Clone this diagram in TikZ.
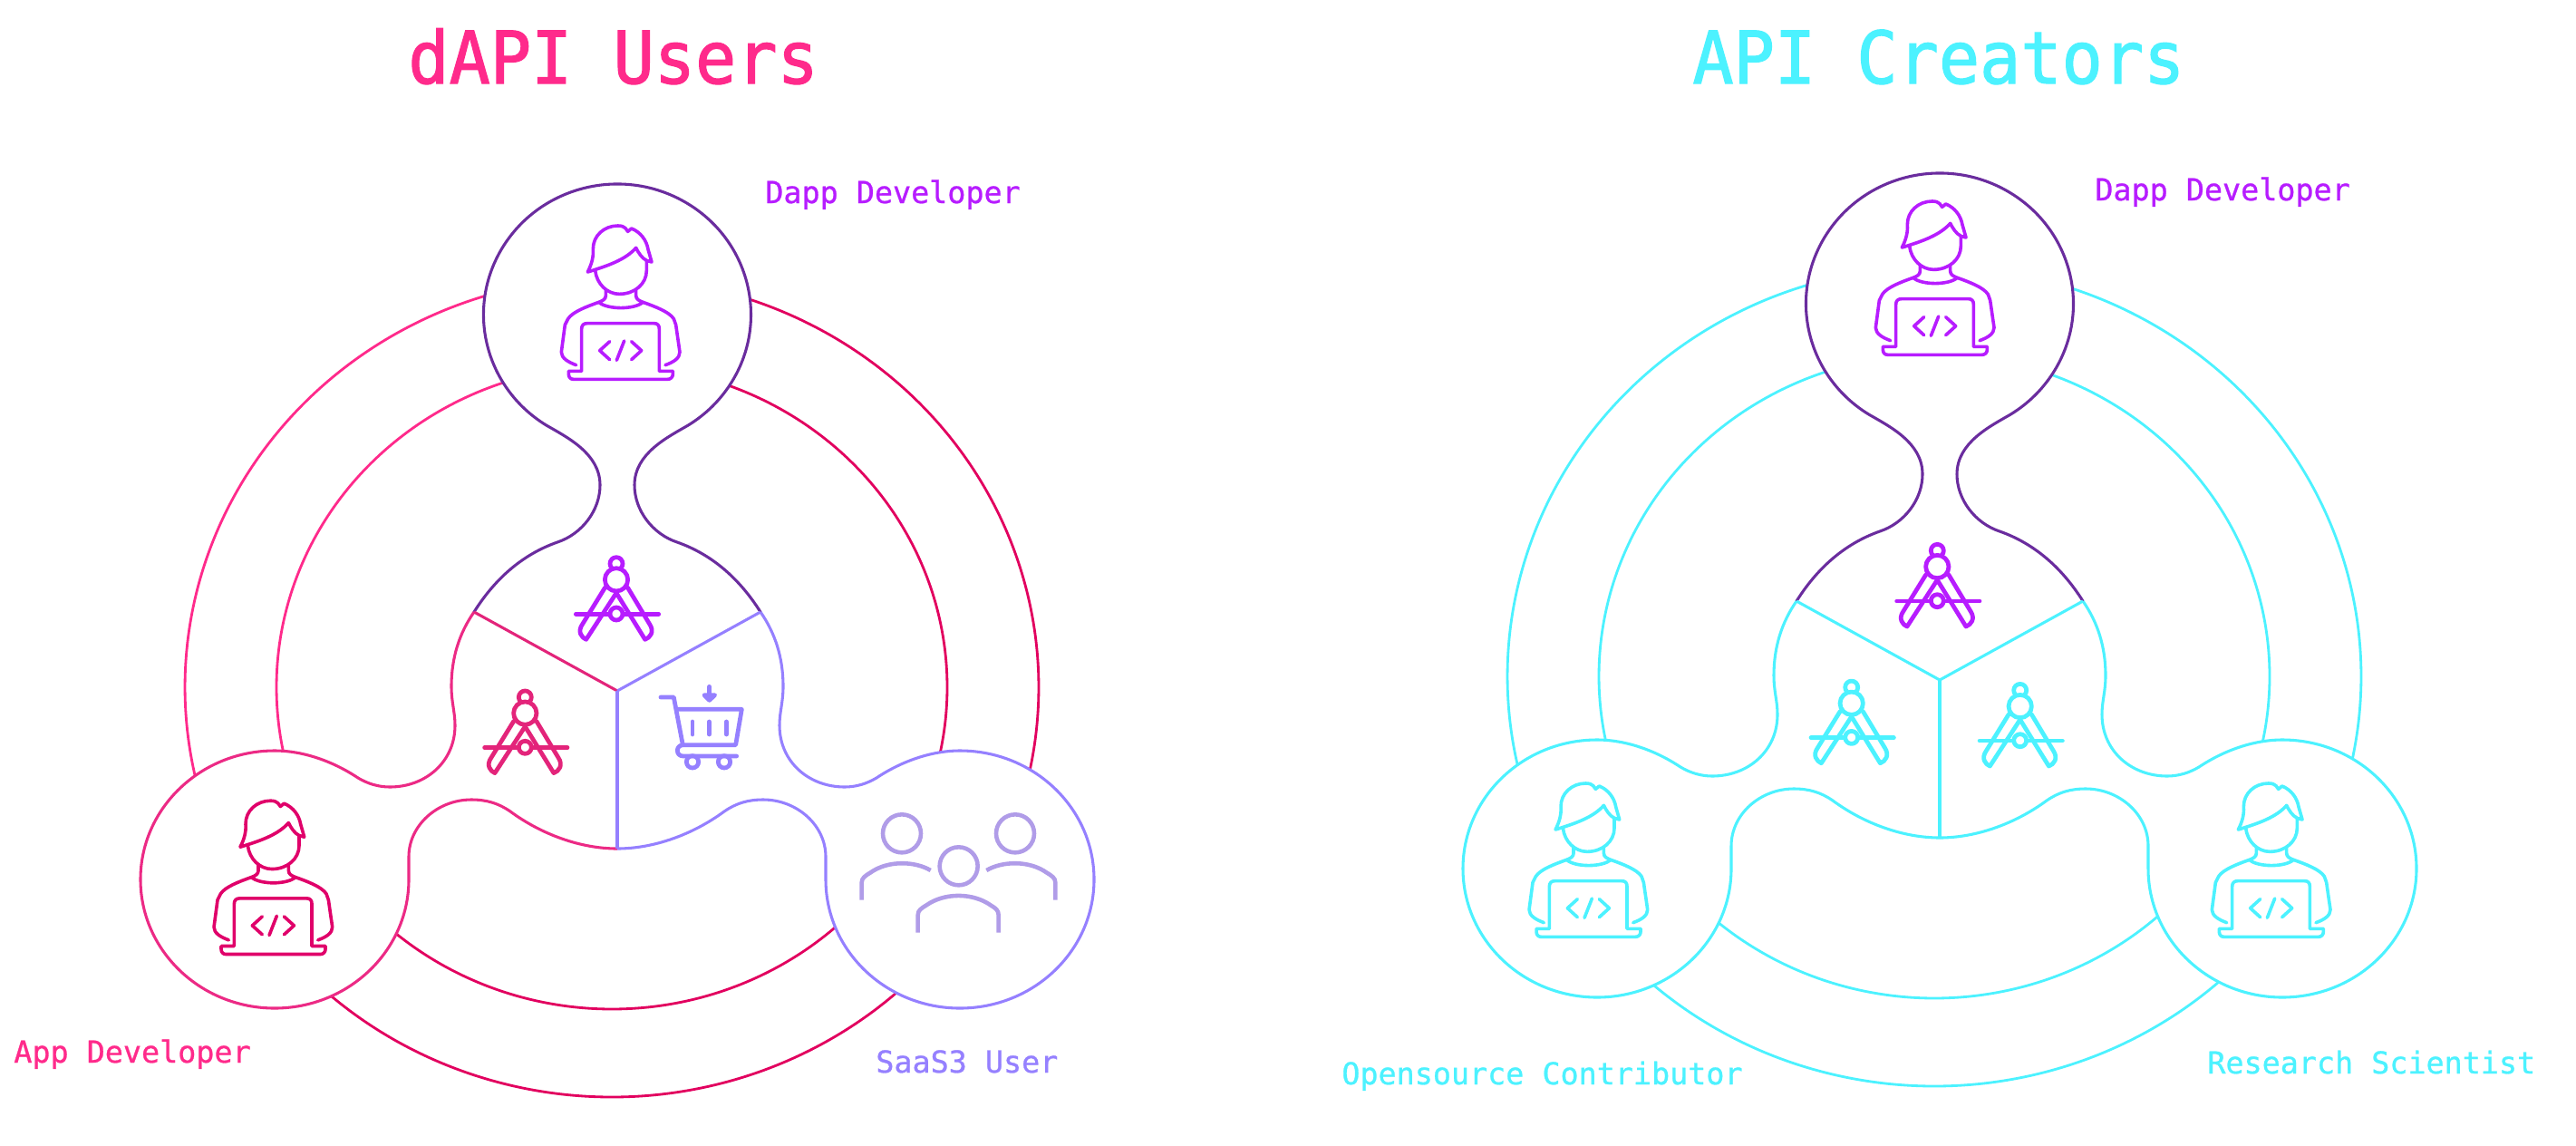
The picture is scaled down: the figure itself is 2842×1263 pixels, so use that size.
\documentclass[tikz,border=0pt]{standalone}
\usepackage{fontspec}
\newfontfamily\labelfont[FakeBold=0.8]{DejaVu Sans Mono}
\newfontfamily\titlefont[FakeStretch=0.94,FakeBold=1.5]{DejaVu Sans Mono}
\definecolor{hotpink}{HTML}{FF2A8B}
\definecolor{crimson}{HTML}{E2005F}
\definecolor{rosepink}{HTML}{EC2A85}
\definecolor{devpink}{HTML}{E0006A}
\definecolor{toolpink}{HTML}{E3247A}
\definecolor{magent}{HTML}{B71CFF}
\definecolor{deeppurple}{HTML}{6A2C9E}
\definecolor{peri}{HTML}{9580FF}
\definecolor{lilac}{HTML}{B09CE8}
\definecolor{cyanish}{HTML}{4CF2FF}
\tikzset{
  ringline/.style={line width=1.6pt},
  blobline/.style={line width=1.75pt},
  iconline/.style={line width=2.05pt,line join=round,line cap=round},
  toolline/.style={line width=2.7pt,line join=round,line cap=round},
  titletext/.style={anchor=base west,inner sep=0pt,font=\titlefont\fontsize{45.5}{45.5}\selectfont},
  roletext/.style={anchor=base west,inner sep=0pt,font=\labelfont\fontsize{19}{19}\selectfont},
}
% blob outline pieces, in pixel coordinates of the left panel
\def\segT{(523,675) .. controls (545,640) and (575,612) .. (615,598)
  .. controls (642,589) and (662,563) .. (662,535)
  .. controls (662,500) and (625,482) .. (602.8,469.1)
  arc[start angle=122,end angle=418,x radius=147.5,y radius=144]
  .. controls (737,482) and (700,500) .. (700,535)
  .. controls (700,563) and (720,589) .. (747,598)
  .. controls (787,612) and (817,640) .. (839,675)}
\def\segR{(839,675) .. controls (855,698) and (864,725) .. (864,757)
  .. controls (864,775) and (860,785) .. (860,800)
  .. controls (860,840) and (892,868) .. (932,868)
  .. controls (945,868) and (957,864) .. (967,858)
  .. controls (994,840) and (1027,828) .. (1059,828)
  arc[start angle=-90,end angle=180,x radius=148,y radius=142]
  .. controls (911,960) and (911,955) .. (911,945)
  .. controls (911,910) and (879,882) .. (842,882)
  .. controls (825,882) and (812,886) .. (799,895)
  .. controls (765,920) and (722,936) .. (681,936)}
\def\segL{(681,936) .. controls (640,936) and (597,920) .. (563,895)
  .. controls (550,886) and (537,882) .. (520,882)
  .. controls (483,882) and (451,910) .. (451,945)
  .. controls (451,955) and (451,960) .. (451,970)
  arc[start angle=0,end angle=270,x radius=148,y radius=142]
  .. controls (335,828) and (368,840) .. (395,858)
  .. controls (405,864) and (417,868) .. (430,868)
  .. controls (470,868) and (502,840) .. (502,800)
  .. controls (502,785) and (498,775) .. (498,757)
  .. controls (498,725) and (507,698) .. (523,675)}
% #1 left ring, #2 lower+right ring, #3 left blob, #4 right blob, #5 left divider, #6 right dividers
\newcommand\panelshape[6]{%
  \draw[ringline,#1] (675,758) ++(-113.9,-438.6) arc[start angle=-104,end angle=-197,x radius=471,y radius=452];
  \draw[ringline,#1] (675,758) ++(-89.5,-344.5) arc[start angle=-104,end angle=-195,x radius=370,y radius=355];
  \draw[ringline,#2] (675,758) ++(113.9,-438.6) arc[start angle=-76,end angle=16,x radius=471,y radius=452];
  \draw[ringline,#2] (675,758) ++(89.5,-344.5) arc[start angle=-76,end angle=15,x radius=370,y radius=355];
  \draw[ringline,#2] (675,758) ++(-333,319.6) arc[start angle=135,end angle=44,x radius=471,y radius=452];
  \draw[ringline,#2] (675,758) ++(-261.6,251) arc[start angle=135,end angle=44,x radius=370,y radius=355];
  \fill[white] \segT -- \segR -- \segL -- cycle;
  \draw[blobline,#3] \segL;
  \draw[blobline,#4] \segR;
  \draw[blobline,deeppurple] \segT;
  \draw[blobline,#5] (523,675) -- (681,762);
  \draw[blobline,#6] (839,675) -- (681,762);
  \draw[blobline,#6] (681,762) -- (681,936);
}
% developer icon: coordinates in 3x crop pixels
\newcommand\devicon[3]{%
  \begin{scope}[shift={(#2,#3)},scale=1/3]
    \draw[iconline,#1] (445,390) .. controls (458,365) and (465,340) .. (463,315)
      .. controls (462,270) and (500,237) .. (545,237) .. controls (558,237) and (565,240) .. (570,245)
      -- (578,256) -- (590,246) .. controls (620,258) and (640,285) .. (645,315) -- (657,357) -- (640,352)
      .. controls (625,345) and (612,325) .. (605,310) .. controls (570,350) and (510,370) .. (445,390) -- cycle;
    \draw[iconline,#1] (470,385) .. controls (475,430) and (510,463) .. (550,463) .. controls (600,463) and (640,430) .. (640,385) -- (640,352);
    \draw[iconline,#1] (505,450) -- (505,468) .. controls (505,480) and (495,485) .. (482,490)
      .. controls (440,505) and (395,522) .. (380,545) -- (370,565) -- (358,655) .. controls (358,675) and (380,688) .. (407,698);
    \draw[iconline,#1] (605,450) -- (605,468) .. controls (605,480) and (615,485) .. (628,490)
      .. controls (670,505) and (715,522) .. (730,545) -- (737,565) -- (750,655) .. controls (750,675) and (730,688) .. (702,698);
    \draw[iconline,#1] (482,490) .. controls (510,515) and (600,515) .. (628,490);
    \draw[iconline,#1] (382,718) -- (425,718) -- (425,578) .. controls (425,566) and (432,560) .. (443,560) -- (665,560)
      .. controls (676,560) and (682,566) .. (682,578) -- (682,718) -- (727,718) -- (727,728)
      .. controls (727,738) and (720,745) .. (710,745) -- (398,745) .. controls (388,745) and (382,738) .. (382,728) -- cycle;
    \draw[iconline,#1] (518,620) -- (485,650) -- (518,680);
    \draw[iconline,#1] (566,618) -- (541,682);
    \draw[iconline,#1] (590,620) -- (623,650) -- (590,680);
  \end{scope}}
% compass icon
\newcommand\compassicon[3]{%
  \begin{scope}[shift={(#2,#3)},scale=1/3]
    \draw[toolline,#1] (660,125) circle[radius=21];
    \draw[toolline,#1] (622,205) -- (548,325) .. controls (530,350) and (545,370) .. (560,376) -- (660,222) -- (755,376)
      .. controls (772,370) and (787,350) .. (770,325) -- (698,205);
    \draw[toolline,#1,fill=white] (660,178) circle[radius=38];
    \draw[toolline,#1] (526,292) -- (800,292);
    \draw[toolline,#1,fill=white] (660,291) circle[radius=21];
  \end{scope}}
\begin{document}
\begin{tikzpicture}[x=1pt,y=1pt,xscale=.56906,yscale=-.56906]
  \useasboundingbox (0,0) rectangle (2842,1263);
  \fill[white] (0,0) rectangle (2842,1263);

  % left panel
  \panelshape{hotpink}{crimson}{rosepink}{peri}{toolpink}{peri}
  \devicon{magent}{500}{170}
  \devicon{devpink}{116.7}{804.2}
  \compassicon{magent}{460}{580}
  \compassicon{toolpink}{359.3}{727.3}
  % cart
  \begin{scope}[shift={(460,580)},scale=1/3]
    \draw[toolline,peri] (807,567) -- (850,567) -- (880,725);
    \draw[toolline,peri] (860,607) -- (1075,607) -- (1055,725) -- (882,725) .. controls (868,725) and (862,735) .. (862,743)
       .. controls (862,755) and (870,762) .. (882,762) -- (1058,762);
    \draw[toolline,peri] (912,648) -- (912,690) (967,648) -- (967,690) (1024,648) -- (1024,690);
    \draw[toolline,peri] (912,781) circle[radius=20] (1017,781) circle[radius=20];
    \draw[toolline,peri] (968,532) -- (968,572);
    \draw[toolline,peri,fill=peri] (951,560) -- (968,577) -- (986,560) -- cycle;
  \end{scope}
  % group
  \begin{scope}[shift={(880,800)},scale=1/3]
    \draw[line width=2.6pt,lilac] (345,358) circle[radius=63] (720,358) circle[radius=63] (533,466) circle[radius=63];
    \draw[line width=2.6pt,lilac] (212,578) -- (212,520) .. controls (212,505) and (225,497) .. (240,488) .. controls (300,445) and (390,450) .. (440,480);
    \draw[line width=2.6pt,lilac] (853,578) -- (853,520) .. controls (853,505) and (840,497) .. (825,488) .. controls (765,445) and (675,450) .. (625,480);
    \draw[line width=2.6pt,lilac] (398,686) -- (398,628) .. controls (398,612) and (410,605) .. (425,596) .. controls (485,553) and (580,553) .. (640,596)
       .. controls (655,605) and (665,612) .. (665,628) -- (665,686);
  \end{scope}

  % right panel
  \begin{scope}[shift={(1459,-12)}]
    \panelshape{cyanish}{cyanish}{cyanish}{cyanish}{cyanish}{cyanish}
  \end{scope}
  \devicon{magent}{1950}{143}
  \devicon{cyanish}{1567.7}{785}
  \devicon{cyanish}{2321}{785}
  \compassicon{magent}{1917.3}{565.7}
  \compassicon{cyanish}{1822.7}{716.4}
  \compassicon{cyanish}{2008.7}{719.7}

  % texts
  \node[titletext,text=hotpink] (titleleft) at (450,92) {dAPI Users};
  \node[titletext,text=cyanish] (titleright) at (1867,92) {API Creators};
  \node[roletext,text=magent] (dappleft) at (844,224) {Dapp Developer};
  \node[roletext,text=hotpink] (appdev) at (15,1172) {App Developer};
  \node[roletext,text=peri] (saasuser) at (966,1183) {SaaS3 User};
  \node[roletext,text=magent] (dappright) at (2311,221) {Dapp Developer};
  \node[roletext,text=cyanish] (contrib) at (1480,1196) {Opensource Contributor};
  \node[roletext,text=cyanish] (scientist) at (2435,1184) {Research Scientist};
\end{tikzpicture}
\end{document}
